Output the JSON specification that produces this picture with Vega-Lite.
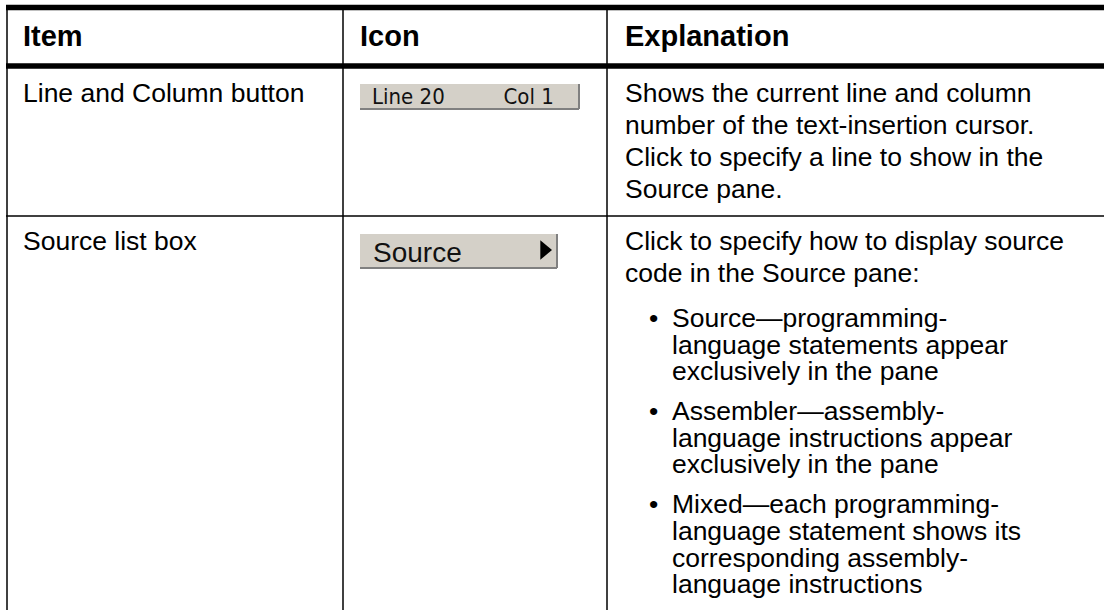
{
  "$schema": "https://vega.github.io/schema/vega-lite/v6.json",
  "width": 1104,
  "height": 610,
  "padding": 0,
  "autosize": {"type": "none"},
  "background": "white",
  "config": {"view": {"stroke": null}},
  "datasets": {
    "hrules": [
      {"edge": 0, "kind": "top border"},
      {"edge": 1, "kind": "header rule"},
      {"edge": 2, "kind": "row rule"}
    ],
    "vrules": [
      {"edge": 0, "kind": "left border"},
      {"edge": 1, "kind": "item | icon"},
      {"edge": 2, "kind": "icon | explanation"}
    ],
    "cells": [
      {"role": "header", "tab": 0, "line": 0, "text": "Item"},
      {"role": "header", "tab": 1, "line": 0, "text": "Icon"},
      {"role": "header", "tab": 2, "line": 0, "text": "Explanation"},
      {"role": "body", "tab": 0, "line": 1, "text": "Line and Column button"},
      {"role": "body", "tab": 2, "line": 1, "text": "Shows the current line and column"},
      {"role": "body", "tab": 2, "line": 2, "text": "number of the text-insertion cursor."},
      {"role": "body", "tab": 2, "line": 3, "text": "Click to specify a line to show in the"},
      {"role": "body", "tab": 2, "line": 4, "text": "Source pane."},
      {"role": "body", "tab": 0, "line": 5, "text": "Source list box"},
      {"role": "body", "tab": 2, "line": 5, "text": "Click to specify how to display source"},
      {"role": "body", "tab": 2, "line": 6, "text": "code in the Source pane:"},
      {"role": "bullet", "tab": 3, "line": 7, "text": "•"},
      {"role": "body", "tab": 4, "line": 7, "text": "Source—programming-"},
      {"role": "body", "tab": 4, "line": 8, "text": "language statements appear"},
      {"role": "body", "tab": 4, "line": 9, "text": "exclusively in the pane"},
      {"role": "bullet", "tab": 3, "line": 10, "text": "•"},
      {"role": "body", "tab": 4, "line": 10, "text": "Assembler—assembly-"},
      {"role": "body", "tab": 4, "line": 11, "text": "language instructions appear"},
      {"role": "body", "tab": 4, "line": 12, "text": "exclusively in the pane"},
      {"role": "bullet", "tab": 3, "line": 13, "text": "•"},
      {"role": "body", "tab": 4, "line": 13, "text": "Mixed—each programming-"},
      {"role": "body", "tab": 4, "line": 14, "text": "language statement shows its"},
      {"role": "body", "tab": 4, "line": 15, "text": "corresponding assembly-"},
      {"role": "body", "tab": 4, "line": 16, "text": "language instructions"}
    ],
    "icons": [
      {"row": 1, "label": "Line 20", "label2": "Col 1"},
      {"row": 2, "label": "Source", "label2": ""}
    ]
  },
  "layer": [
    {
      "data": {"name": "hrules"},
      "transform": [{"filter": "datum.kind !== 'row rule'"}],
      "mark": {"type": "rule", "color": "#000000", "strokeWidth": 5.5},
      "encoding": {
        "y": {"field": "edge", "type": "quantitative", "scale": {"domain": [0, 1, 2, 3], "range": [7.5, 66, 216, 610], "nice": false, "zero": false}, "axis": null},
        "x": {"datum": 0, "type": "quantitative", "scale": {"domain": [0, 1, 2, 3], "range": [6, 343, 607, 1104], "nice": false, "zero": false}, "axis": null},
        "x2": {"datum": 3}
      }
    },
    {
      "data": {"name": "hrules"},
      "transform": [{"filter": "datum.kind === 'row rule'"}],
      "mark": {"type": "rule", "color": "#000000", "strokeWidth": 1.5},
      "encoding": {
        "y": {"field": "edge", "type": "quantitative", "scale": {"domain": [0, 1, 2, 3], "range": [7.5, 66, 216, 610], "nice": false, "zero": false}, "axis": null},
        "x": {"datum": 0, "type": "quantitative", "scale": {"domain": [0, 1, 2, 3], "range": [6, 343, 607, 1104], "nice": false, "zero": false}, "axis": null},
        "x2": {"datum": 3}
      }
    },
    {
      "data": {"name": "vrules"},
      "mark": {"type": "rule", "color": "#000000", "strokeWidth": 1.5},
      "encoding": {
        "x": {"field": "edge", "type": "quantitative", "scale": {"domain": [0, 1, 2, 3], "range": [7, 343, 607, 1104], "nice": false, "zero": false}, "axis": null},
        "y": {"datum": 0, "type": "quantitative", "scale": {"domain": [0, 1, 2, 3], "range": [7.5, 66, 216, 610], "nice": false, "zero": false}, "axis": null},
        "y2": {"datum": 3}
      }
    },
    {
      "data": {"name": "icons"},
      "transform": [{"filter": "datum.row === 1"}],
      "layer": [
        {
          "mark": {"type": "rect", "fill": "#D4D0C8"},
          "encoding": {
            "x": {"datum": 0, "type": "quantitative", "scale": {"domain": [0, 1], "range": [360, 579], "nice": false, "zero": false}, "axis": null},
            "x2": {"datum": 1},
            "y": {"datum": 0, "type": "quantitative", "scale": {"domain": [0, 1], "range": [84, 109], "nice": false, "zero": false}, "axis": null},
            "y2": {"datum": 1}
          }
        },
        {
          "mark": {"type": "rule", "color": "#808080", "strokeWidth": 2},
          "encoding": {
            "x": {"datum": 0, "type": "quantitative"},
            "x2": {"datum": 1},
            "y": {"datum": 1, "type": "quantitative"}
          }
        },
        {
          "mark": {"type": "rule", "color": "#808080", "strokeWidth": 2},
          "encoding": {
            "x": {"datum": 1, "type": "quantitative"},
            "y": {"datum": 0, "type": "quantitative"},
            "y2": {"datum": 1}
          }
        },
        {
          "mark": {"type": "text", "align": "left", "baseline": "alphabetic", "font": "Liberation Sans Narrow, DejaVu Sans Condensed, Liberation Sans, sans-serif", "fontSize": 22, "color": "#111111"},
          "encoding": {
            "x": {"datum": 0.055, "type": "quantitative"},
            "y": {"datum": 0.8, "type": "quantitative"},
            "text": {"field": "label"}
          }
        },
        {
          "mark": {"type": "text", "align": "left", "baseline": "alphabetic", "font": "Liberation Sans Narrow, DejaVu Sans Condensed, Liberation Sans, sans-serif", "fontSize": 22, "color": "#111111"},
          "encoding": {
            "x": {"datum": 0.655, "type": "quantitative"},
            "y": {"datum": 0.8, "type": "quantitative"},
            "text": {"field": "label2"}
          }
        }
      ]
    },
    {
      "data": {"name": "icons"},
      "transform": [{"filter": "datum.row === 2"}],
      "layer": [
        {
          "mark": {"type": "rect", "fill": "#D4D0C8"},
          "encoding": {
            "x": {"datum": 0, "type": "quantitative", "scale": {"domain": [0, 1], "range": [360, 557], "nice": false, "zero": false}, "axis": null},
            "x2": {"datum": 1},
            "y": {"datum": 0, "type": "quantitative", "scale": {"domain": [0, 1], "range": [234, 268], "nice": false, "zero": false}, "axis": null},
            "y2": {"datum": 1}
          }
        },
        {
          "mark": {"type": "rule", "color": "#808080", "strokeWidth": 2},
          "encoding": {
            "x": {"datum": 0, "type": "quantitative"},
            "x2": {"datum": 1},
            "y": {"datum": 1, "type": "quantitative"}
          }
        },
        {
          "mark": {"type": "rule", "color": "#808080", "strokeWidth": 2},
          "encoding": {
            "x": {"datum": 1, "type": "quantitative"},
            "y": {"datum": 0, "type": "quantitative"},
            "y2": {"datum": 1}
          }
        },
        {
          "mark": {"type": "text", "align": "left", "baseline": "alphabetic", "font": "Liberation Sans, Arial, sans-serif", "fontSize": 28, "color": "#111111"},
          "encoding": {
            "x": {"datum": 0.066, "type": "quantitative"},
            "y": {"datum": 0.82, "type": "quantitative"},
            "text": {"field": "label"}
          }
        },
        {
          "mark": {"type": "point", "shape": "M-0.6,-1L0.6,0L-0.6,1Z", "filled": true, "color": "#000000", "opacity": 1, "size": 380},
          "encoding": {
            "x": {"datum": 0.945, "type": "quantitative"},
            "y": {"datum": 0.47, "type": "quantitative"}
          }
        }
      ]
    },
    {
      "data": {"name": "cells"},
      "transform": [{"filter": "datum.role === 'header'"}],
      "mark": {"type": "text", "align": "left", "baseline": "alphabetic", "font": "Liberation Sans, Arial, Helvetica, sans-serif", "fontWeight": "bold", "fontSize": 29, "color": "#000000"},
      "encoding": {
        "x": {"field": "tab", "type": "quantitative", "scale": {"domain": [0, 1, 2, 3, 4], "range": [23, 360, 625, 649, 672], "nice": false, "zero": false}, "axis": null},
        "y": {"field": "line", "type": "quantitative", "scale": {"domain": [0, 1, 2, 3, 4, 5, 6, 7, 8, 9, 10, 11, 12, 13, 14, 15, 16], "range": [46, 102, 134, 166, 198, 250, 282, 327, 353.5, 380, 420, 446.5, 473, 513, 540, 566.5, 593], "nice": false, "zero": false}, "axis": null},
        "text": {"field": "text"}
      }
    },
    {
      "data": {"name": "cells"},
      "transform": [{"filter": "datum.role !== 'header'"}],
      "mark": {"type": "text", "align": "left", "baseline": "alphabetic", "font": "Liberation Sans, Arial, Helvetica, sans-serif", "fontSize": 26.5, "color": "#000000"},
      "encoding": {
        "x": {"field": "tab", "type": "quantitative", "scale": {"domain": [0, 1, 2, 3, 4], "range": [23, 360, 625, 649, 672], "nice": false, "zero": false}, "axis": null},
        "y": {"field": "line", "type": "quantitative", "scale": {"domain": [0, 1, 2, 3, 4, 5, 6, 7, 8, 9, 10, 11, 12, 13, 14, 15, 16], "range": [46, 102, 134, 166, 198, 250, 282, 327, 353.5, 380, 420, 446.5, 473, 513, 540, 566.5, 593], "nice": false, "zero": false}, "axis": null},
        "text": {"field": "text"}
      }
    }
  ],
  "resolve": {"scale": {"x": "independent", "y": "independent"}}
}
